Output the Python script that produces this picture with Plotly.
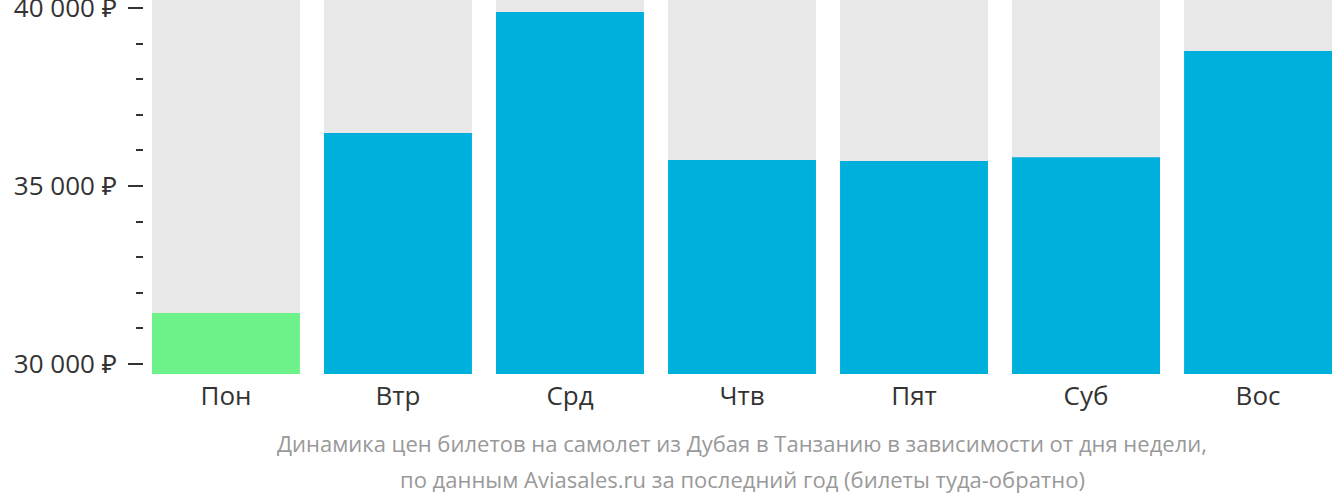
import plotly.graph_objects as go

days = ["Пон", "Втр", "Срд", "Чтв", "Пят", "Суб", "Вос"]
prices = [31430, 36490, 39890, 35730, 35700, 35810, 38790]
colors = ["#6cf288", "#00b0dc", "#00b0dc", "#00b0dc", "#00b0dc", "#00b0dc", "#00b0dc"]
y_ticks = [30000, 35000, 40000]
y_tick_labels = ["30 000 ₽", "35 000 ₽", "40 000 ₽"]
title_lines = [
    "Динамика цен билетов на самолет из Дубая в Танзанию в зависимости от дня недели,",
    "по данным Aviasales.ru за последний год (билеты туда-обратно)",
]

y_min, y_max = 29719, 40225
font = "Open Sans, Noto Sans, sans-serif"

fig = go.Figure()
fig.add_trace(go.Bar(x=days, y=[y_max] * len(days), marker=dict(color="#e8e8e8", line=dict(width=0)),
                     hoverinfo="skip", showlegend=False))
fig.add_trace(go.Bar(x=days, y=prices, marker=dict(color=colors, line=dict(width=0)), showlegend=False))

fig.update_layout(
    width=1332, height=502,
    margin=dict(l=143, r=0, t=0, b=128, autoexpand=False),
    barmode="overlay", bargap=0.14,
    plot_bgcolor="white", paper_bgcolor="white",
    font=dict(family=font, color="#333333"),
    xaxis=dict(domain=[9 / 1189, 1], range=[-0.43, 6.43], showgrid=False, zeroline=False,
               showline=False, ticks="", tickfont=dict(size=26, color="#333333"),
               ticklabelstandoff=4, automargin=False),
    yaxis=dict(range=[y_min, y_max], anchor="free", position=0, showgrid=False, zeroline=False,
               showline=False, tickmode="array", tickvals=y_ticks, ticktext=y_tick_labels,
               ticks="outside", ticklen=15, tickwidth=2, tickcolor="#333333",
               tickfont=dict(size=26, color="#333333"), ticklabelstandoff=6,
               ticklabeloverflow="allow", automargin=False,
               minor=dict(dtick=1000, tick0=30000, ticks="outside", ticklen=7, tickwidth=2,
                          tickcolor="#333333", showgrid=False)),
)

for i, line in enumerate(title_lines):
    fig.add_annotation(text=line, xref="x domain", yref="y domain", x=0.5,
                       y=[-0.184, -0.281][i], yanchor="middle", xanchor="center",
                       showarrow=False, font=dict(size=22, color="#999999", family=font))

fig.write_html("out.html")
